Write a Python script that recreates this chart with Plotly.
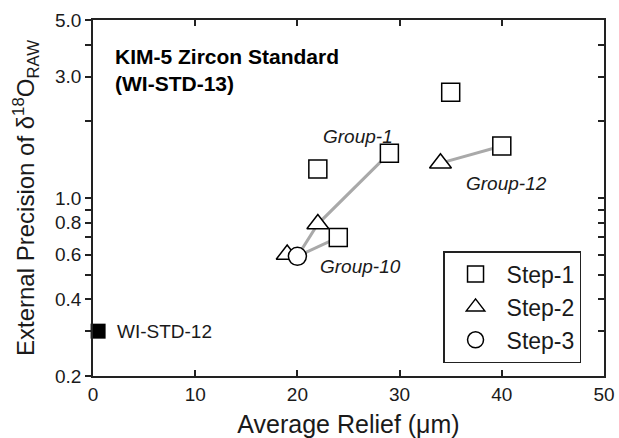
import numpy as np
import plotly.graph_objects as go

# Step-1 (squares), Step-2 (triangles), Step-3 (circles)
step1_x = [35, 29, 22, 40, 24]
step1_y = [2.6, 1.5, 1.3, 1.6, 0.70]
step2_x = [22, 34, 19]
step2_y = [0.79, 1.37, 0.60]
step3_x = [20]
step3_y = [0.59]

# reference standard
ref_x = [0.5]
ref_y = [0.30]

# connecting lines per group
group1_x = [20, 22, 29]
group1_y = [0.59, 0.79, 1.5]
group10_x = [20, 24]
group10_y = [0.59, 0.70]
group12_x = [34, 40]
group12_y = [1.37, 1.6]

y_tickvals = [0.2, 0.3, 0.4, 0.5, 0.6, 0.7, 0.8, 0.9, 1, 2, 3, 4, 5]
y_ticktext = ["0.2", "", "0.4", "", "0.6", "", "0.8", "", "1.0", "", "3.0", "", "5.0"]
x_tickvals = [0, 10, 20, 30, 40, 50]

FONT = "Arial, Liberation Sans, sans-serif"
line_style = dict(color="#a9a9a9", width=3)
mk_line = dict(color="black", width=1.5)

fig = go.Figure()
for gx, gy in [(group1_x, group1_y), (group10_x, group10_y), (group12_x, group12_y)]:
    fig.add_trace(go.Scatter(x=gx, y=gy, mode="lines", line=line_style,
                             showlegend=False, hoverinfo="skip"))

fig.add_trace(go.Scatter(x=step1_x, y=step1_y, mode="markers", name="Step-1",
                         marker=dict(symbol="square", size=18, color="white", line=mk_line)))
fig.add_trace(go.Scatter(x=step2_x, y=step2_y, mode="markers", name="Step-2",
                         marker=dict(symbol="triangle-up", size=19, color="white", line=mk_line)))
fig.add_trace(go.Scatter(x=step3_x, y=step3_y, mode="markers", name="Step-3",
                         marker=dict(symbol="circle", size=18, color="white", line=mk_line)))
fig.add_trace(go.Scatter(x=ref_x, y=ref_y, mode="markers", showlegend=False, cliponaxis=False,
                         marker=dict(symbol="square", size=15, color="black", line=dict(width=0))))
# dummy trace so the right-hand tick axis is drawn
fig.add_trace(go.Scatter(x=[None], y=[None], yaxis="y2", showlegend=False, hoverinfo="skip"))

annotations = [
    dict(x=0.04, y=0.935, xref="paper", yref="paper", xanchor="left", yanchor="top",
         text="<b>KIM-5 Zircon Standard<br>(WI-STD-13)</b>", align="left",
         font=dict(size=21, color="black"), showarrow=False),
    dict(x=25.9, y=np.log10(1.75), text="<i>Group-1</i>", font=dict(size=19), showarrow=False),
    dict(x=40.5, y=np.log10(1.145), text="<i>Group-12</i>", font=dict(size=19), showarrow=False),
    dict(x=26.2, y=np.log10(0.536), text="<i>Group-10</i>", font=dict(size=19), showarrow=False),
    dict(x=2.2, y=np.log10(0.30), text="WI-STD-12", xanchor="left",
         font=dict(size=19), showarrow=False),
]

fig.update_layout(
    width=619, height=438,
    margin=dict(l=93, r=15, t=20, b=62, autoexpand=False),
    paper_bgcolor="white", plot_bgcolor="white",
    font=dict(family=FONT, color="#1a1a1a", size=19),
    xaxis=dict(
        range=[0, 50], tickvals=x_tickvals, ticks="inside", ticklen=6, tickwidth=1.5,
        tickcolor="#222", showline=True, linecolor="#222", linewidth=1.5, mirror="ticks",
        showgrid=False, zeroline=False, tickfont=dict(size=19), automargin=False,
        title=dict(text="Average Relief (μm)", font=dict(size=25), standoff=13),
    ),
    yaxis=dict(
        type="log", range=[np.log10(0.2), np.log10(5)], tickvals=y_tickvals,
        ticktext=y_ticktext, ticks="outside", ticklen=6, tickwidth=1.5, tickcolor="#222",
        showline=True, linecolor="#222", linewidth=1.5, mirror=True, automargin=False,
        showgrid=False, zeroline=False, tickfont=dict(size=19),
        title=dict(text="External Precision of δ<sup>18</sup>O<sub>RAW</sub>",
                   font=dict(size=24), standoff=14),
    ),
    yaxis2=dict(
        type="log", range=[np.log10(0.2), np.log10(5)], tickvals=y_tickvals,
        overlaying="y", side="right", ticks="inside", ticklen=6, tickwidth=1.5,
        tickcolor="#222", showticklabels=False, showgrid=False, zeroline=False,
        showline=False, automargin=False,
    ),
    legend=dict(
        x=0.685, y=0.351, xanchor="left", yanchor="top",
        bgcolor="white", bordercolor="#222", borderwidth=1.5,
        font=dict(size=23, color="#1a1a1a"), itemwidth=52, tracegroupgap=0,
        entrywidth=145,
    ),
    annotations=annotations,
    showlegend=True,
)

fig.write_html("out.html", config={"displayModeBar": False},
               post_script="document.body.style.margin='0';")
